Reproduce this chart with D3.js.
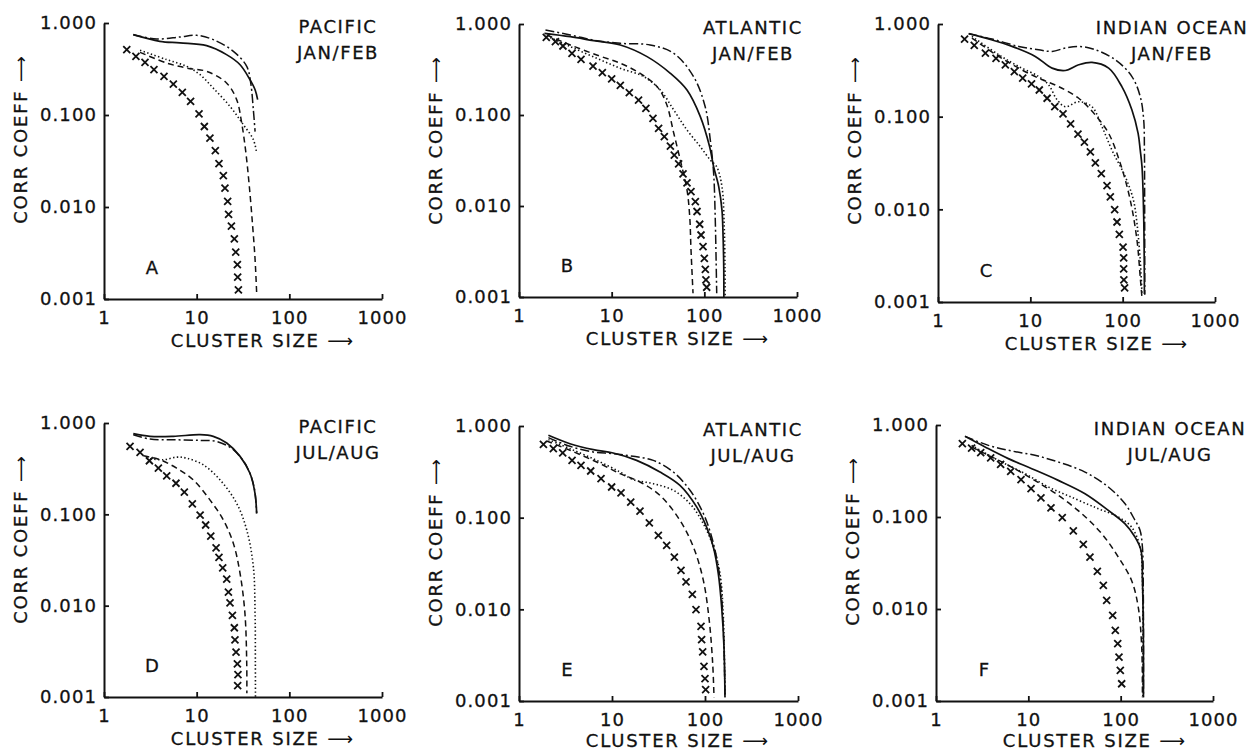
<!DOCTYPE html>
<html>
<head>
<meta charset="utf-8">
<script src="https://cdn.jsdelivr.net/npm/d3@7"></script>
<style>
  body { margin: 0; background: #fff; }
  svg text { font-family: "DejaVu Sans", sans-serif; fill: #111; stroke: #111; stroke-width: 0.3px; }
</style>
</head>
<body>
<svg id="chart"></svg>
<script>
const size = {w: 1252, h: 753};

// tick values
const xTicks = [1, 10, 100, 1000];
const yTicks = [0.001, 0.01, 0.1, 1];

// panel labels
const letters = ['A', 'B', 'C', 'D', 'E', 'F'];
const regions = ['PACIFIC', 'ATLANTIC', 'INDIAN OCEAN', 'PACIFIC', 'ATLANTIC', 'INDIAN OCEAN'];
const seasons = ['JAN/FEB', 'JAN/FEB', 'JAN/FEB', 'JUL/AUG', 'JUL/AUG', 'JUL/AUG'];

// [cluster size, corr coeff]
// A  pacific jan/feb
const aSolid = [[2.07,0.747],[4.0,0.632],[6.6,0.607],[12.8,0.567],[21,0.453],[29.4,0.352],[37.6,0.242],[42.7,0.188],[45.5,0.147]];
const aDashDot = [[2.07,0.747],[3.7,0.67],[6.6,0.705],[10,0.734],[15.1,0.66],[24.9,0.492],[34.7,0.338],[38.3,0.223],[40.9,0.114],[42.7,0.066]];
const aDashed = [[2.45,0.48],[4.75,0.367],[7.8,0.324],[12.8,0.298],[21,0.223],[27,0.147],[30.6,0.082],[34,0.0386],[37,0.0168],[40.2,0.0062],[42.7,0.00268],[44.4,0.00116]];
const aDotted = [[2.45,0.505],[4.75,0.4],[7.8,0.338],[10.9,0.274],[15.1,0.196],[22.9,0.124],[31.9,0.0785],[40.9,0.054],[44.4,0.0386]];
const aCross = [[1.76,0.513],[2.21,0.434],[2.77,0.373],[3.46,0.311],[4.44,0.263],[5.6,0.217],[7.0,0.176],[8.6,0.141],[10.6,0.103],[12.1,0.075],[13.9,0.056],[15.9,0.041],[17.4,0.0296],[19.4,0.0219],[20.2,0.016],[21.6,0.0115],[22.1,0.0083],[23.7,0.0062],[25.5,0.0045],[26.4,0.00324],[27.5,0.00236],[27.7,0.00173],[28.2,0.00126]];

// B  atlantic jan/feb
const bSolid = [[1.88,0.79],[3.58,0.726],[6.4,0.656],[12.4,0.588],[24.1,0.438],[43,0.287],[65,0.188],[90.5,0.096],[114,0.0449],[126,0.027],[143,0.0163],[155,0.009],[159,0.005],[162,0.00215],[162.5,0.001]];
const bDashDot = [[1.93,0.86],[3.58,0.757],[6.9,0.656],[12.4,0.613],[26,0.588],[46.8,0.476],[76.5,0.264],[102,0.124],[116,0.053],[126,0.0229],[131,0.0076],[134,0.00255],[136,0.0011]];
const bDashed = [[2.0,0.757],[3.58,0.588],[6.9,0.456],[12.4,0.37],[20.3,0.287],[30.9,0.205],[38.9,0.134],[46.8,0.063],[55,0.032],[65,0.015],[69.6,0.0076],[71.8,0.0033],[75.5,0.0011]];
const bDotted = [[2.0,0.738],[3.58,0.564],[6.9,0.42],[12.4,0.326],[22.2,0.264],[33.5,0.188],[46.8,0.1135],[65,0.0684],[90.5,0.0449],[116,0.032],[136,0.027],[155,0.0163],[164,0.0059],[167,0.00215],[167.5,0.001]];
const bCross = [[1.97,0.714],[2.47,0.64],[2.98,0.573],[3.73,0.476],[4.67,0.409],[6.29,0.345],[7.93,0.292],[10,0.249],[12.4,0.212],[15.5,0.176],[19.5,0.146],[23.4,0.118],[27.9,0.092],[32.1,0.0714],[37,0.0578],[43,0.0456],[47.4,0.0363],[52.8,0.029],[58.9,0.0225],[65,0.018],[71.8,0.0144],[80,0.0112],[83.4,0.0087],[89.1,0.0063],[92.1,0.0048],[96.8,0.00357],[100,0.00266],[102.5,0.00201],[104,0.00154],[106,0.00128]];

// C  indian ocean jan/feb
const cSolid = [[2.15,0.786],[3.54,0.688],[6.33,0.573],[11.3,0.447],[17.2,0.334],[23.9,0.315],[33.4,0.363],[46.5,0.385],[70.5,0.334],[98,0.211],[126,0.118],[147,0.066],[155,0.0435],[162,0.0287],[169,0.00826],[172,0.00122]];
const cDashDot = [[2.15,0.786],[3.85,0.688],[7.48,0.573],[12.3,0.527],[17.2,0.506],[23.9,0.55],[33.4,0.573],[50.6,0.527],[83.3,0.411],[126,0.271],[155,0.165],[169,0.092],[172,0.0435],[173,0.0125],[173.5,0.0012]];
const cDashed = [[2.33,0.705],[4.54,0.447],[7.48,0.334],[12.3,0.26],[20.3,0.211],[33.4,0.158],[50.6,0.104],[70.5,0.066],[94.3,0.0313],[121,0.0125],[143,0.00461],[155,0.00185],[162,0.0011]];
const cDotted = [[2.33,0.735],[4.54,0.466],[7.48,0.348],[12.3,0.271],[15.8,0.22],[19.5,0.152],[23.9,0.128],[33.4,0.145],[46.5,0.128],[59.7,0.078],[76.6,0.0435],[107,0.0224],[131,0.0125],[143,0.007],[155,0.0028],[162,0.0012]];
const cCross = [[1.94,0.688],[2.47,0.587],[3.26,0.485],[4.25,0.425],[5.36,0.363],[6.71,0.307],[8.26,0.26],[10.3,0.226],[12.5,0.194],[15.2,0.158],[18.4,0.128],[22.6,0.107],[27.3,0.0834],[32.8,0.0649],[38.5,0.0532],[44.7,0.0418],[50.6,0.0318],[58.7,0.0243],[67.7,0.018],[73.5,0.0136],[81.9,0.0099],[86.8,0.0073],[92,0.00536],[101,0.0039],[102.5,0.003],[102.5,0.00228],[103,0.00173],[105,0.00142]];

// D  pacific jul/aug
const dSolid = [[2.07,0.764],[3.14,0.714],[5.6,0.714],[10.9,0.745],[15.1,0.714],[21.1,0.603],[29.4,0.431],[37.6,0.282],[42.6,0.17],[44.4,0.1025]];
const dDashDot = [[2.07,0.745],[3.14,0.667],[5.6,0.656],[10.9,0.645],[16.4,0.629],[24.9,0.509],[34.7,0.334],[41.6,0.201],[44.4,0.1025]];
const dDashed = [[2.66,0.438],[4.02,0.396],[6.08,0.32],[9.2,0.238],[13.9,0.144],[19.4,0.0867],[24.9,0.048],[29.4,0.0225],[33.2,0.00817],[34.7,0.0023],[34.8,0.0011]];
const dDotted = [[2.89,0.412],[4.37,0.396],[6.08,0.423],[7.8,0.412],[11.8,0.348],[17.9,0.238],[27,0.132],[34.7,0.0673],[40.9,0.0266],[42.7,0.00817],[43,0.0023],[43.1,0.001]];
const dCross = [[1.91,0.554],[2.45,0.476],[3.09,0.386],[3.86,0.32],[4.75,0.264],[5.98,0.219],[7.36,0.175],[8.98,0.13],[10.9,0.098],[12.5,0.0764],[14.2,0.0578],[16.2,0.043],[17.4,0.0337],[19.1,0.0259],[21.1,0.0195],[22,0.0141],[22.9,0.0107],[24.3,0.00783],[25.5,0.00573],[25.9,0.00423],[26.6,0.0031],[27.5,0.00231],[27.9,0.00176],[27.7,0.00133]];

// E  atlantic jul/aug
const eSolid = [[2.07,0.791],[3.53,0.641],[6.3,0.552],[10.3,0.508],[18.4,0.422],[32.8,0.315],[53.8,0.225],[81.3,0.131],[104,0.079],[123,0.0479],[139,0.0245],[151,0.0106],[160,0.00388],[164,0.0011]];
const eDashDot = [[2.07,0.746],[3.53,0.6],[6.3,0.52],[10.3,0.499],[16.9,0.467],[27.8,0.422],[45.6,0.315],[69,0.199],[96,0.111],[118,0.0615],[139,0.029],[151,0.0136],[160,0.00388],[164,0.0011]];
const eDashed = [[1.98,0.686],[3.53,0.543],[6.84,0.405],[12.2,0.302],[20,0.245],[32.8,0.175],[53.8,0.0935],[75,0.0479],[96,0.0207],[111,0.0076],[121,0.00255],[125,0.0011]];
const eDotted = [[2.07,0.71],[3.53,0.566],[6.84,0.422],[12.2,0.315],[16.9,0.26],[27.8,0.235],[45.6,0.199],[69,0.142],[96,0.086],[123,0.0479],[145,0.0245],[157,0.009],[164,0.0011]];
const eCross = [[1.83,0.631],[2.34,0.566],[2.95,0.508],[3.72,0.422],[4.64,0.372],[5.9,0.323],[7.62,0.266],[9.91,0.216],[12.5,0.186],[15.9,0.148],[20,0.118],[25.2,0.0875],[31.5,0.0642],[38.7,0.0499],[46.8,0.0372],[55.2,0.0266],[62.5,0.0199],[73.1,0.0146],[80,0.0099],[90.6,0.00653],[92,0.00467],[94.4,0.00343],[97.5,0.00239],[100,0.00175],[101.6,0.00133]];

// F  indian ocean jul/aug
const fSolid = [[2.06,0.753],[3.4,0.577],[6.07,0.431],[10.9,0.335],[21.1,0.25],[41.1,0.179],[73.5,0.118],[111,0.0847],[143,0.0606],[166,0.0434],[172,0.0205],[176,0.00586],[176.5,0.0011]];
const fDashDot = [[2.06,0.753],[3.69,0.601],[6.6,0.522],[11.8,0.468],[21.1,0.396],[41.1,0.308],[73.5,0.212],[111,0.14],[143,0.092],[162,0.0716],[172,0.0472],[176,0.0135],[176.5,0.0011]];
const fDashed = [[2.43,0.577],[3.69,0.468],[6.07,0.365],[10.9,0.261],[21.1,0.172],[37.8,0.109],[62.3,0.0659],[94.3,0.0367],[131,0.0205],[155,0.0105],[169,0.00386],[172,0.0011]];
const fDotted = [[2.43,0.601],[4.73,0.413],[9.2,0.296],[16.5,0.212],[32,0.158],[57.3,0.123],[94.3,0.1],[131,0.0778],[162,0.0472],[172,0.0205],[174,0.0011]];
const fCross = [[1.93,0.627],[2.43,0.562],[3.05,0.5],[3.91,0.438],[5.01,0.374],[6.44,0.314],[8.33,0.255],[10.7,0.203],[13.7,0.161],[17.6,0.126],[23.3,0.0984],[30.7,0.0705],[39.4,0.0505],[46.5,0.0367],[55.9,0.0257],[64.9,0.0181],[70.5,0.0124],[81.9,0.00853],[87.5,0.00586],[92.9,0.0042],[95.9,0.003],[99.1,0.00215],[102.5,0.00154]];

// plot frames [left, right, top, bottom] in px
const frames = [
  [104, 382, 23, 299], [519, 797, 24, 297], [938, 1215, 24, 302],
  [104, 382, 423, 697], [519, 798, 426, 701], [936, 1213, 425, 701]
];

const lineSets = [
  [aSolid, aDashDot, aDashed, aDotted], [bSolid, bDashDot, bDashed, bDotted],
  [cSolid, cDashDot, cDashed, cDotted], [dSolid, dDashDot, dDashed, dDotted],
  [eSolid, eDashDot, eDashed, eDotted], [fSolid, fDashDot, fDashed, fDotted]
];
const crossSets = [aCross, bCross, cCross, dCross, eCross, fCross];

// line styles: solid, dash-dot, dashed, dotted
const dashes = [null, '9,3,2,3', '6,4', '1.4,2.4'];
const widths = [1.7, 1.5, 1.5, 1.6];

const svg = d3.select('svg#chart')
  .attr('width', size.w)
  .attr('height', size.h);

svg.append('rect').attr('width', size.w).attr('height', size.h).attr('fill', '#fff');

frames.forEach((f, i) => drawPanel(i, f));

// text with a long thin arrow at its end
function arrowText(sel, label) {
  sel.append('tspan').text(label + ' ');
  sel.append('tspan').style('letter-spacing', '0px').style('stroke-width', '0px').text('⟶');
}

function drawPanel(i, f) {
  const [x0, x1, y0, y1] = f;
  const x = d3.scaleLog().domain([1, 1000]).range([x0, x1]);
  const y = d3.scaleLog().domain([0.001, 1]).range([y1, y0]);

  const g = svg.append('g').classed('panel', true);

  // axes
  const yAxis = g.append('g')
    .attr('transform', `translate(${x0},0)`)
    .call(d3.axisLeft(y).tickValues(yTicks).tickFormat(d3.format('.3f'))
      .tickSizeInner(-5).tickSizeOuter(0).tickPadding(7));
  const xAxis = g.append('g')
    .attr('transform', `translate(0,${y1})`)
    .call(d3.axisBottom(x).tickValues(xTicks).tickFormat(d3.format('d'))
      .tickSizeInner(-5).tickSizeOuter(0).tickPadding(12));

  [yAxis, xAxis].forEach(a => {
    a.select('.domain').attr('stroke', '#111').attr('stroke-width', 2);
    a.selectAll('.tick line').attr('stroke', '#111').attr('stroke-width', 1.8);
    a.selectAll('.tick text')
      .style('font-family', '"DejaVu Sans", sans-serif')
      .style('font-size', '18px')
      .style('letter-spacing', '1.1px')
      .attr('fill', '#111');
  });

  // axis titles
  g.append('text')
    .attr('x', x0 + 158)
    .attr('y', Math.min(y1 + 48, 747))
    .attr('text-anchor', 'middle')
    .style('font-size', '18px')
    .style('letter-spacing', '1.8px')
    .call(arrowText, 'CLUSTER SIZE');

  g.append('text')
    .attr('transform', `translate(${x0 - 77},${y0 + 117}) rotate(-90)`)
    .attr('text-anchor', 'middle')
    .style('font-size', '18px')
    .style('letter-spacing', '1.8px')
    .call(arrowText, 'CORR COEFF');

  // region / season
  g.append('text')
    .attr('x', x0 + 234).attr('y', y0 + 10)
    .attr('text-anchor', 'middle')
    .style('font-size', '18px').style('letter-spacing', '1.6px')
    .text(regions[i]);
  g.append('text')
    .attr('x', x0 + 234).attr('y', y0 + 36)
    .attr('text-anchor', 'middle')
    .style('font-size', '18px').style('letter-spacing', '1.6px')
    .text(seasons[i]);

  g.append('text')
    .attr('x', x0 + 48).attr('y', y1 - 25)
    .attr('text-anchor', 'middle')
    .style('font-size', '18px')
    .text(letters[i]);

  // curves
  const line = d3.line()
    .x(d => x(d[0]))
    .y(d => y(d[1]))
    .curve(d3.curveCatmullRom.alpha(0.5));

  lineSets[i].forEach((s, k) => {
    g.append('path')
      .attr('d', line(s))
      .attr('fill', 'none')
      .attr('stroke', '#111')
      .attr('stroke-width', widths[k])
      .attr('stroke-dasharray', dashes[k]);
  });

  // x markers
  const r = 3.5;
  g.append('g')
    .selectAll('path')
    .data(crossSets[i])
    .join('path')
    .attr('transform', d => `translate(${x(d[0])},${y(d[1])})`)
    .attr('d', `M${-r},${-r}L${r},${r}M${-r},${r}L${r},${-r}`)
    .attr('stroke', '#111')
    .attr('stroke-width', 1.8)
    .attr('fill', 'none');
}
</script>
</body>
</html>
